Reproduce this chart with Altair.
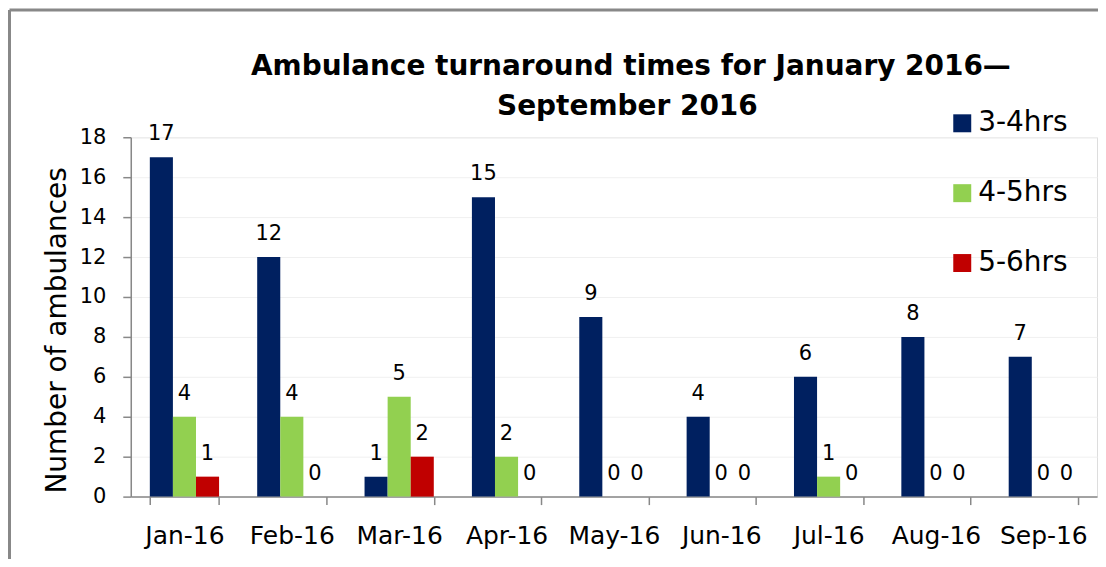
import altair as alt
import pandas as pd

months = ["Jan-16", "Feb-16", "Mar-16", "Apr-16", "May-16", "Jun-16", "Jul-16", "Aug-16", "Sep-16"]
series = ["3-4hrs", "4-5hrs", "5-6hrs"]
v_3_4 = [17, 12, 1, 15, 9, 4, 6, 8, 7]
v_4_5 = [4, 4, 5, 2, 0, 0, 1, 0, 0]
v_5_6 = [1, 0, 2, 0, 0, 0, 0, 0, 0]
colors = ["#002060", "#92D050", "#C00000"]
y_ticks = [0, 2, 4, 6, 8, 10, 12, 14, 16, 18]
title_line1 = "Ambulance turnaround times for January 2016—"
title_line2 = "September 2016"

rows = []
for s, vals in zip(series, [v_3_4, v_4_5, v_5_6]):
    for m, v in zip(months, vals):
        rows.append({"month": m, "series": s, "value": v})
df = pd.DataFrame(rows)

FONT = "DejaVu Sans"

x_enc = alt.X(
    "month:N",
    sort=months,
    scale=alt.Scale(paddingInner=0.355, paddingOuter=0.1775),
    axis=alt.Axis(
        title=None,
        labelAngle=0,
        labelFontSize=25,
        labelColor="#000000",
        labelPadding=19,
        tickBand="extent",
        tickSize=8,
        tickColor="#888888",
        tickWidth=1.5,
        domainColor="#888888",
        domainWidth=1.5,
        grid=False,
    ),
)
y_enc = alt.Y(
    "value:Q",
    scale=alt.Scale(domain=[0, 18], nice=False),
    axis=alt.Axis(
        title="Number of ambulances",
        values=y_ticks,
        labelOverlap=False,
        labelFontSize=21,
        labelColor="#000000",
        labelPadding=17,
        tickSize=8,
        tickColor="#888888",
        tickWidth=1.5,
        domainColor="#888888",
        domainWidth=1.5,
        grid=True,
        gridColor="#F0F0F0",
        gridWidth=1,
        titleFontSize=28,
        titleFontWeight="normal",
        titleColor="#000000",
        titleAngle=270,
        titleAlign="center",
        titleBaseline="middle",
        titleX=-73,
        titleY=193,
    ),
)
xoff = alt.XOffset("series:N", sort=series, scale=alt.Scale(paddingInner=0, paddingOuter=0))

bars = alt.Chart(df).mark_bar().encode(
    x=x_enc,
    y=y_enc,
    xOffset=xoff,
    color=alt.Color(
        "series:N",
        sort=series,
        scale=alt.Scale(domain=series, range=colors),
        legend=alt.Legend(
            title=None,
            orient="none",
            legendX=819,
            legendY=-28,
            symbolType="square",
            symbolSize=324,
            symbolStrokeWidth=0,
            symbolOpacity=1,
            labelFontSize=28,
            labelColor="#000000",
            labelOffset=2,
            rowPadding=42,
            padding=0,
        ),
    ),
)

labels = alt.Chart(df).mark_text(baseline="alphabetic", dy=-17, fontSize=21, color="#000000", font=FONT).encode(
    x=x_enc,
    y=y_enc,
    xOffset=xoff,
    text=alt.Text("value:Q"),
)

one = pd.DataFrame({"k": [0]})
frame_left = alt.Chart(one).mark_rule(color="#888888", strokeWidth=3).encode(
    x=alt.value(-121.5), y=alt.value(-127.5), y2=alt.value(430)
)
frame_top = alt.Chart(one).mark_rule(color="#888888", strokeWidth=3).encode(
    x=alt.value(-121.5), x2=alt.value(975), y=alt.value(-127.5)
)
t1 = alt.Chart(one).mark_text(
    font=FONT, fontSize=28, fontWeight="bold", color="#000000", align="center", baseline="alphabetic"
).encode(x=alt.value(501), y=alt.value(-62), text=alt.value(title_line1))
t2 = alt.Chart(one).mark_text(
    font=FONT, fontSize=28, fontWeight="bold", color="#000000", align="center", baseline="alphabetic"
).encode(x=alt.value(497.5), y=alt.value(-22), text=alt.value(title_line2))

chart = (
    alt.layer(bars, labels, frame_left, frame_top, t1, t2)
    .properties(
        width=968,
        height=360,
        autosize=alt.AutoSizeParams(type="none"),
        padding={"left": 123, "top": 129, "right": 1, "bottom": 62},
    )
    .configure_view(stroke="transparent", strokeWidth=0)
    .configure(font=FONT)
    .configure_axis(labelFont=FONT, titleFont=FONT)
    .configure_legend(labelFont=FONT)
)

chart.save("out.html", embed_options={"renderer": "svg", "actions": False})
